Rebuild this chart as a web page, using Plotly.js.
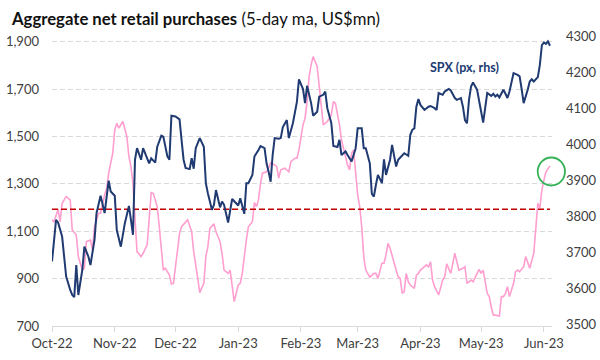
<!DOCTYPE html>
<html>
<head>
<meta charset="utf-8">
<script src="https://cdn.plot.ly/plotly-3.0.1.min.js"></script>
<style>html,body{margin:0;padding:0;background:#fff;}#chart{width:600px;height:360px;}</style>
</head>
<body>
<div id="chart"></div>
<script>
const retailDates = ["2022-10-03","2022-10-04","2022-10-06","2022-10-07","2022-10-08","2022-10-10","2022-10-12","2022-10-13","2022-10-15","2022-10-16","2022-10-18","2022-10-19","2022-10-20","2022-10-22","2022-10-23","2022-10-24","2022-10-26","2022-10-27","2022-10-29","2022-10-30","2022-10-31",
"2022-11-02","2022-11-03","2022-11-04","2022-11-05","2022-11-07","2022-11-09","2022-11-10","2022-11-11","2022-11-12","2022-11-13","2022-11-14","2022-11-16","2022-11-17","2022-11-19","2022-11-20","2022-11-21","2022-11-22","2022-11-24","2022-11-25","2022-11-26","2022-11-27","2022-11-28","2022-11-30",
"2022-12-01","2022-12-02","2022-12-03","2022-12-05","2022-12-06","2022-12-08","2022-12-09","2022-12-11","2022-12-12","2022-12-14","2022-12-15","2022-12-17","2022-12-18","2022-12-19","2022-12-20","2022-12-22","2022-12-23","2022-12-25","2022-12-26","2022-12-27","2022-12-29","2022-12-30","2022-12-31",
"2023-01-01","2023-01-03","2023-01-04","2023-01-05","2023-01-06","2023-01-07","2023-01-08","2023-01-10","2023-01-11","2023-01-12","2023-01-13","2023-01-14","2023-01-15","2023-01-17","2023-01-18","2023-01-19","2023-01-21","2023-01-22","2023-01-23","2023-01-24","2023-01-26","2023-01-27","2023-01-28","2023-01-29","2023-01-31",
"2023-02-01","2023-02-02","2023-02-04","2023-02-05","2023-02-06","2023-02-07","2023-02-08","2023-02-09","2023-02-11","2023-02-12","2023-02-13","2023-02-14","2023-02-16","2023-02-18","2023-02-19","2023-02-20","2023-02-22","2023-02-23","2023-02-25","2023-02-26","2023-02-27","2023-02-28",
"2023-03-01","2023-03-02","2023-03-03","2023-03-04","2023-03-05","2023-03-06","2023-03-07","2023-03-09","2023-03-11","2023-03-12","2023-03-13","2023-03-15","2023-03-16","2023-03-17","2023-03-18","2023-03-19","2023-03-20","2023-03-22","2023-03-23","2023-03-24","2023-03-25","2023-03-26","2023-03-27","2023-03-28","2023-03-29","2023-03-31",
"2023-04-01","2023-04-02","2023-04-03","2023-04-05","2023-04-06","2023-04-07","2023-04-08","2023-04-09","2023-04-10","2023-04-12","2023-04-13","2023-04-14","2023-04-15","2023-04-16","2023-04-18","2023-04-19","2023-04-20","2023-04-21","2023-04-22","2023-04-24","2023-04-25","2023-04-26","2023-04-28","2023-04-29",
"2023-05-01","2023-05-02","2023-05-03","2023-05-04","2023-05-06","2023-05-07","2023-05-08","2023-05-09","2023-05-10","2023-05-12","2023-05-13","2023-05-14","2023-05-15","2023-05-16","2023-05-17","2023-05-19","2023-05-20","2023-05-21","2023-05-22","2023-05-24","2023-05-25","2023-05-26","2023-05-27","2023-05-29","2023-05-30","2023-05-31",
"2023-06-01","2023-06-02","2023-06-03","2023-06-04","2023-06-06"];
const retailValues = [1148,1140,1193,1140,1218,1246,1232,1105,1084,993,936,944,1056,1063,1021,1119,1176,1176,1253,1281,1345,
1429,1528,1556,1535,1563,1499,1415,1373,1302,1155,1014,993,1007,1042,1176,1263,1260,1204,1119,1007,936,944,915,
877,880,950,1091,1119,1140,1148,1098,1014,901,841,880,993,1035,1112,1131,1098,1056,1007,936,922,936,873,
803,873,880,922,1007,1063,1119,1140,1221,1204,1232,1302,1345,1351,1366,1389,1380,1373,1324,1359,1366,1359,1351,1394,1408,
1408,1443,1549,1577,1646,1753,1802,1837,1795,1704,1626,1549,1563,1591,1647,1640,1549,1485,1415,1380,1359,1429,
1443,1359,1253,1204,1119,993,936,906,922,922,901,965,965,1000,1049,1028,993,936,908,901,838,845,922,887,873,859,
915,922,936,950,958,950,971,894,866,831,866,894,908,962,922,958,1007,971,936,944,950,880,894,887,
922,939,922,936,838,824,781,746,746,742,824,824,838,866,824,880,929,936,929,950,993,965,944,1007,1119,1218,
1197,1274,1316,1351,1376];

const spxDates = ["2022-10-03","2022-10-05","2022-10-06","2022-10-08","2022-10-09","2022-10-10","2022-10-12","2022-10-13","2022-10-14","2022-10-15","2022-10-16","2022-10-18","2022-10-19","2022-10-21","2022-10-22","2022-10-24","2022-10-25","2022-10-27","2022-10-29","2022-10-31",
"2022-11-01","2022-11-03","2022-11-04","2022-11-06","2022-11-08","2022-11-10","2022-11-11","2022-11-12","2022-11-13","2022-11-14","2022-11-16","2022-11-17","2022-11-19","2022-11-20","2022-11-21","2022-11-23","2022-11-24","2022-11-26","2022-11-27","2022-11-29","2022-11-30",
"2022-12-01","2022-12-03","2022-12-05","2022-12-06","2022-12-07","2022-12-08","2022-12-10","2022-12-11","2022-12-12","2022-12-13","2022-12-15","2022-12-17","2022-12-18","2022-12-19","2022-12-21","2022-12-22","2022-12-23","2022-12-25","2022-12-26","2022-12-27","2022-12-28","2022-12-29","2022-12-31",
"2023-01-01","2023-01-03","2023-01-04","2023-01-05","2023-01-06","2023-01-07","2023-01-08","2023-01-10","2023-01-11","2023-01-13","2023-01-14","2023-01-16","2023-01-17","2023-01-18","2023-01-19","2023-01-20","2023-01-21","2023-01-23","2023-01-24","2023-01-25","2023-01-27","2023-01-28","2023-01-30",
"2023-02-01","2023-02-02","2023-02-04","2023-02-05","2023-02-06","2023-02-08","2023-02-09","2023-02-11","2023-02-12","2023-02-14","2023-02-15","2023-02-16","2023-02-18","2023-02-19","2023-02-21","2023-02-22","2023-02-23","2023-02-25","2023-02-26","2023-02-28",
"2023-03-02","2023-03-03","2023-03-05","2023-03-06","2023-03-07","2023-03-09","2023-03-10","2023-03-11","2023-03-12","2023-03-13","2023-03-15","2023-03-16","2023-03-17","2023-03-19","2023-03-20","2023-03-22","2023-03-23","2023-03-25","2023-03-26","2023-03-28","2023-03-29","2023-03-30","2023-03-31",
"2023-04-01","2023-04-02","2023-04-03","2023-04-05","2023-04-07","2023-04-08","2023-04-10","2023-04-11","2023-04-12","2023-04-14","2023-04-15","2023-04-17","2023-04-18","2023-04-20","2023-04-21","2023-04-23","2023-04-24","2023-04-25","2023-04-26","2023-04-27","2023-04-28","2023-04-29",
"2023-05-01","2023-05-02","2023-05-03","2023-05-04","2023-05-05","2023-05-06","2023-05-08","2023-05-09","2023-05-10","2023-05-11","2023-05-12","2023-05-14","2023-05-15","2023-05-16","2023-05-17","2023-05-19","2023-05-21","2023-05-22","2023-05-23","2023-05-24","2023-05-26","2023-05-27","2023-05-28","2023-05-29","2023-05-31",
"2023-06-01","2023-06-02","2023-06-03","2023-06-04","2023-06-05","2023-06-06"];
const spxValues = [3676,3791,3784,3745,3689,3634,3597,3583,3577,3666,3583,3653,3717,3689,3666,3736,3810,3858,3810,3900,
3870,3858,3763,3717,3782,3830,3791,3750,3958,3990,3958,3990,3962,3948,3962,3950,3994,4025,4022,3967,3958,
4080,4078,4070,4013,3958,3935,3932,3962,3933,3990,4018,3994,3893,3865,3819,3833,3874,3826,3842,3833,3805,3784,3849,
3842,3831,3851,3828,3808,3893,3893,3916,3967,3985,3996,3990,3948,3925,3897,3971,4018,4016,4018,4048,4068,4018,4059,
4119,4181,4154,4115,4163,4115,4080,4091,4133,4138,4147,4101,4059,3996,3993,4013,3971,3981,3971,3953,
3990,4045,4045,3990,3990,3948,3863,3856,3888,3916,3893,3959,3916,3958,3999,3939,3958,3971,3976,3969,4027,4041,4045,
4105,4126,4110,4096,4105,4107,4101,4096,4143,4138,4147,4154,4150,4129,4124,4129,4105,4068,4059,4124,4161,4172,
4152,4115,4091,4061,4105,4143,4135,4141,4133,4138,4131,4152,4141,4129,4147,4198,4193,4189,4154,4115,4152,4175,4181,4175,4187,
4221,4276,4283,4279,4286,4274];

const avgLevel = 1193;
const tickDates = ["2022-10-03","2022-11-03","2022-12-03","2023-01-03","2023-02-03","2023-03-03","2023-04-03","2023-05-03","2023-06-03"];
const tickLabels = ["Oct-22","Nov-22","Dec-22","Jan-23","Feb-23","Mar-23","Apr-23","May-23","Jun-23"];
const leftTicks = [700,900,1100,1300,1500,1700,1900];
const rightTicks = [3500,3600,3700,3800,3900,4000,4100,4200,4300];

const FONT = "Lato, 'Open Sans', sans-serif";
const traces = [
  {x: retailDates, y: retailValues, type: 'scatter', mode: 'lines', yaxis: 'y',
   line: {color: '#FF9ECF', width: 1.6}, hoverinfo: 'skip'},
  {x: [retailDates[0], retailDates[retailDates.length - 1]], y: [avgLevel, avgLevel], type: 'scatter', mode: 'lines', yaxis: 'y',
   line: {color: '#C00000', width: 1.5, dash: '6px,3px'}, hoverinfo: 'skip'},
  {x: spxDates, y: spxValues, type: 'scatter', mode: 'lines', yaxis: 'y2',
   line: {color: '#203A72', width: 2}, hoverinfo: 'skip'}
];

const layout = {
  width: 600, height: 360,
  margin: {l: 52, r: 48, t: 36, b: 34, pad: 0},
  paper_bgcolor: '#ffffff', plot_bgcolor: '#ffffff',
  showlegend: false,
  font: {family: FONT, size: 13, color: '#404040'},
  title: {
    text: '<b>Aggregate net retail purchases</b> (5-day ma, US$mn)',
    font: {family: FONT, size: 16.7, color: '#111111'},
    xref: 'container', yref: 'container', x: 0.02, xanchor: 'left', y: 0.947, yanchor: 'middle'
  },
  xaxis: {
    type: 'date', range: ['2022-10-03', '2023-06-07'],
    tickmode: 'array', tickvals: tickDates, ticktext: tickLabels,
    showgrid: false, zeroline: false,
    showline: true, linecolor: '#D9D9D9', linewidth: 1,
    ticks: 'outside', ticklen: 5, tickcolor: '#D9D9D9', tickwidth: 1,
    ticklabelstandoff: 0,
    tickfont: {family: FONT, size: 13, color: '#404040'}
  },
  yaxis: {
    range: [700, 1924], tickmode: 'array', tickvals: leftTicks, tickformat: ',d',
    showgrid: true, gridcolor: '#D9D9D9', gridwidth: 1, griddash: '5px,3px',
    zeroline: false, showline: false, ticks: '',
    ticklabelstandoff: 12,
    tickfont: {family: FONT, size: 13, color: '#404040'}
  },
  yaxis2: {
    overlaying: 'y', side: 'right',
    range: [3497, 4301], tickmode: 'array', tickvals: rightTicks, tickformat: 'd',
    showgrid: false, zeroline: false, showline: false, ticks: '',
    ticklabelstandoff: 13,
    tickfont: {family: FONT, size: 13, color: '#404040'}
  },
  annotations: [{
    text: '<b>SPX (px, rhs)</b>', xref: 'paper', yref: 'paper', x: 0.824, y: 0.893,
    xanchor: 'center', yanchor: 'middle', showarrow: false,
    font: {family: FONT, size: 12.5, color: '#203A72'}
  }],
  shapes: [{
    type: 'circle', xref: 'paper', yref: 'paper',
    x0: 0.9714, x1: 1.026, y0: 0.4845, y1: 0.581,
    line: {color: '#35B257', width: 1.8}, fillcolor: 'rgba(0,0,0,0)'
  }]
};

Plotly.newPlot('chart', traces, layout, {staticPlot: true, displayModeBar: false});
</script>
</body>
</html>
